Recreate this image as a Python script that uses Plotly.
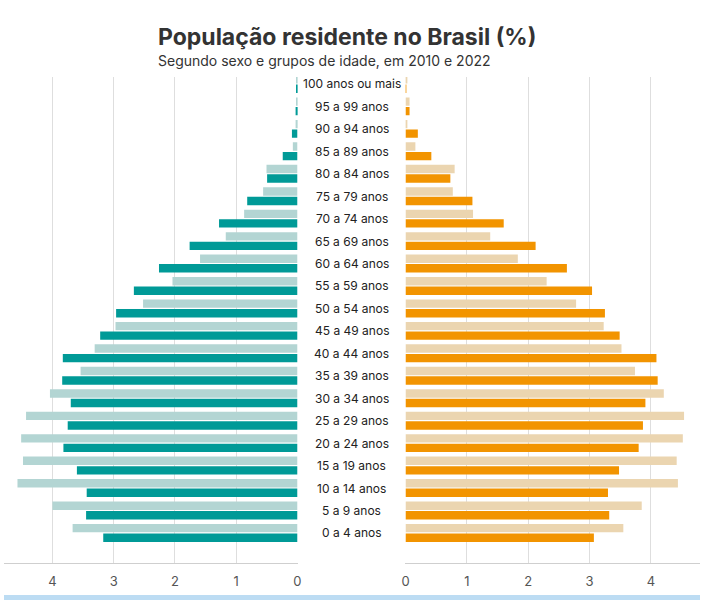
import plotly.graph_objects as go

# --- datos: población residente por sexo y grupo de edad (%) ---
idades = [
    "0 a 4 anos", "5 a 9 anos", "10 a 14 anos", "15 a 19 anos", "20 a 24 anos",
    "25 a 29 anos", "30 a 34 anos", "35 a 39 anos", "40 a 44 anos", "45 a 49 anos",
    "50 a 54 anos", "55 a 59 anos", "60 a 64 anos", "65 a 69 anos", "70 a 74 anos",
    "75 a 79 anos", "80 a 84 anos", "85 a 89 anos", "90 a 94 anos", "95 a 99 anos",
    "100 anos ou mais",
]
homens_2010 = [3.67, 4.00, 4.57, 4.48, 4.51, 4.43, 4.04, 3.54, 3.31, 2.97, 2.52,
               2.04, 1.59, 1.17, 0.87, 0.56, 0.505, 0.075, 0.03, 0.02, 0.01]
homens_2022 = [3.17, 3.45, 3.44, 3.60, 3.82, 3.75, 3.70, 3.84, 3.83, 3.22, 2.96,
               2.67, 2.26, 1.76, 1.28, 0.82, 0.495, 0.24, 0.09, 0.03, 0.01]
mulheres_2010 = [3.55, 3.85, 4.44, 4.42, 4.52, 4.54, 4.21, 3.74, 3.52, 3.23, 2.78,
                 2.30, 1.83, 1.38, 1.10, 0.77, 0.80, 0.16, 0.015, 0.065, 0.02]
mulheres_2022 = [3.07, 3.32, 3.30, 3.48, 3.80, 3.87, 3.91, 4.11, 4.09, 3.49, 3.25,
                 3.04, 2.63, 2.12, 1.60, 1.09, 0.73, 0.42, 0.20, 0.065, 0.01]
ticks = [0, 1, 2, 3, 4]

FONT = "Inter, Roboto, sans-serif"
W, H = 704, 600
T, B = 77, 37              # margen superior / inferior en px
PH = H - T - B             # alto del área de trazado


def py(pix):
    # px desde arriba -> coordenada "paper" (relativa al área de trazado)
    return (H - B - pix) / PH


fig = go.Figure()

# 2022 primero (queda abajo dentro del grupo), 2010 encima
fig.add_trace(go.Bar(y=idades, x=homens_2022, orientation="h", name="Homens 2022",
                     marker=dict(color="#009a97", line_width=0), xaxis="x", yaxis="y"))
fig.add_trace(go.Bar(y=idades, x=homens_2010, orientation="h", name="Homens 2010",
                     marker=dict(color="#b3d5d3", line_width=0), xaxis="x", yaxis="y"))
fig.add_trace(go.Bar(y=idades, x=mulheres_2022, orientation="h", name="Mulheres 2022",
                     marker=dict(color="#f29400", line_width=0), xaxis="x2", yaxis="y"))
fig.add_trace(go.Bar(y=idades, x=mulheres_2010, orientation="h", name="Mulheres 2010",
                     marker=dict(color="#ebd5b0", line_width=0), xaxis="x2", yaxis="y"))

# etiquetas de edad en el centro
for idade in idades:
    fig.add_annotation(text=idade, x=351.5 / W, xref="paper", y=idade, yref="y",
                       showarrow=False, xanchor="center", yanchor="middle",
                       font=dict(family=FONT, size=12, color="#222222"))

# título y subtítulo
fig.add_annotation(text="<b>População residente no Brasil (%)</b>", x=154 / W, xref="paper",
                   y=py(37), yref="paper", yanchor="middle", xanchor="left",
                   showarrow=False, font=dict(family=FONT, size=23, color="#333333"))
fig.add_annotation(text="Segundo sexo e grupos de idade, em 2010 e 2022", x=154 / W,
                   xref="paper", y=py(60), yref="paper", yanchor="middle",
                   xanchor="left", showarrow=False,
                   font=dict(family=FONT, size=14, color="#333333"))

# franja azul al pie
fig.add_shape(type="rect", xref="paper", yref="paper", x0=0, x1=1, y0=py(600), y1=py(595),
              fillcolor="#bcdcf3", line_width=0, layer="above")

eje = dict(
    showgrid=True, gridcolor="#dedede", gridwidth=1, zeroline=False,
    showline=True, linecolor="#cfcfcf", linewidth=1,
    tickvals=ticks, ticktext=[str(t) for t in ticks],
    ticks="outside", ticklen=6, tickcolor="rgba(0,0,0,0)",
    tickfont=dict(family=FONT, size=13, color="#555555"),
    fixedrange=True,
)

fig.update_layout(
    width=W, height=H,
    margin=dict(l=0, r=0, t=T, b=B),
    paper_bgcolor="white", plot_bgcolor="white",
    barmode="group", bargap=0.15, bargroupgap=0.12,
    showlegend=False,
    font=dict(family=FONT),
    xaxis=dict(eje, domain=[0, 297 / W], range=[4.79, -0.003], anchor="y"),
    xaxis2=dict(eje, domain=[406 / W, 1], range=[-0.003, 4.8], anchor="y"),
    yaxis=dict(range=[-1.34, 20.31], showticklabels=False, showgrid=False,
               zeroline=False, showline=False, ticks="", fixedrange=True),
)

# sin margen del body para que la figura ocupe la ventana entera
fig.write_html(
    "out.html",
    config={"displayModeBar": False},
    post_script="document.body.style.margin='0';document.body.style.overflow='hidden';",
)
